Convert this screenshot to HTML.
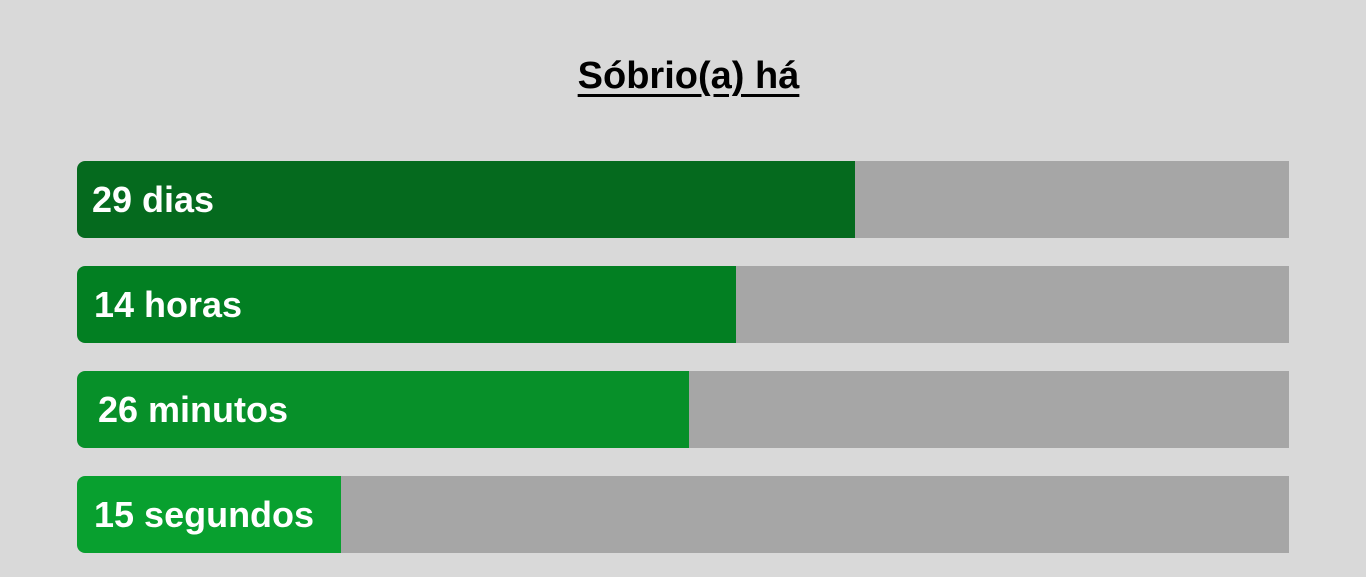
<!DOCTYPE html>
<html><head><meta charset="utf-8"><style>
body{margin:0;width:1366px;height:577px;background:#d9d9d9;font-family:"Liberation Sans",sans-serif;overflow:hidden;position:relative}
#title{position:absolute;left:0;width:1377px;top:55px;text-align:center;font-weight:bold;font-size:38px;color:#000;text-decoration:underline;text-decoration-thickness:3px;text-underline-offset:6px;letter-spacing:0}
.track{position:absolute;left:77px;width:1212px;height:77px;background:#a6a6a6;border-radius:8px 0 0 8px;overflow:hidden}
.fill{position:absolute;left:0;top:0;height:100%;border-radius:8px 0 0 8px}
.lbl{position:absolute;top:0;line-height:77px;color:#fff;font-weight:bold;font-size:36px;white-space:nowrap}
</style></head><body>
<div id="title">Sóbrio(a) há</div>
<div id="chart"></div>
<script>
const labels=["29 dias","14 horas","26 minutos","15 segundos"];
const percents=[64.2,54.4,50.5,21.8];
const colors=["#056a1e","#027f22","#079029","#08a02f"];
const tops=[161,266,371,476];
const chart=document.getElementById('chart');
const W=1212;
function xScale(p){return p/100*W;}
labels.forEach((l,i)=>{
  const t=document.createElement('div');t.className='track';t.style.top=tops[i]+'px';
  
  
  const f=document.createElement('div');f.className='fill';
  f.style.width=xScale(percents[i])+'px';f.style.background=colors[i];
  
  
  const s=document.createElement('div');s.className='lbl';s.textContent=l;
  s.style.left=(i==2?21:(i==0?15:17))+'px';
  
  
  t.appendChild(f);t.appendChild(s);chart.appendChild(t);
});
</script>
</body></html>
